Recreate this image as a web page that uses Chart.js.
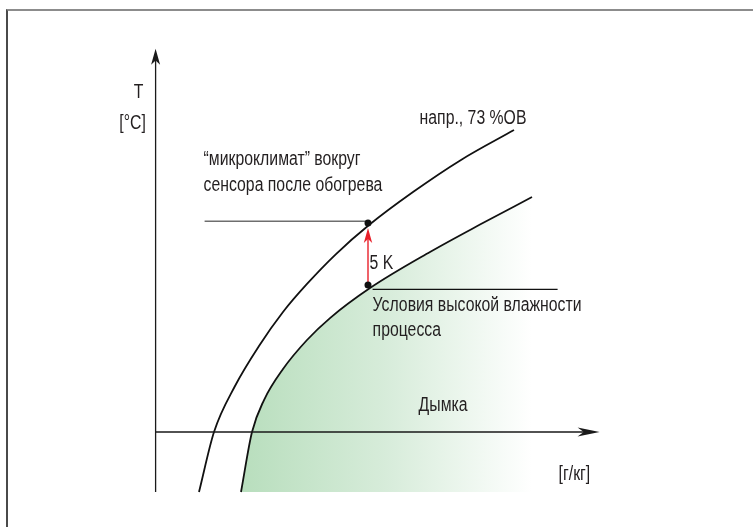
<!DOCTYPE html>
<html>
<head>
<meta charset="utf-8">
<script src="https://cdn.jsdelivr.net/npm/chart.js@4/dist/chart.umd.min.js"></script>
<style>
  html, body { margin: 0; padding: 0; background: #fff; }
  #wrap { position: relative; width: 753px; height: 527px; overflow: hidden; }
  #frame { position: absolute; left: 6px; top: 9px; width: 800px; height: 600px;
           border-top: 2px solid #8c8c8c; border-left: 2px solid #4a4a4a; }
  canvas { position: absolute; left: 0; top: 0; }
</style>
</head>
<body>
<div id="wrap">
  <div id="frame"></div>
  <canvas id="chart" width="753" height="527"></canvas>
</div>
<script>
// curve for ~73 %RH (upper) and saturation / high-humidity curve (lower)
const upperX = [2.17, 2.92, 3.97, 5.17, 6.37, 7.57, 9.02, 10.67, 12.87, 15.27, 17.92]
const upperY = [-4.84, 0, 3.71, 6.94, 9.68, 11.94, 14.35, 16.69, 19.35, 21.94, 24.35]
const lowerX = [4.27, 4.82, 5.42, 6.37, 7.57, 8.72, 10.72, 13.72, 16.22, 18.82]
const lowerY = [-4.84, 0, 2.58, 5.08, 7.42, 9.19, 11.61, 14.52, 16.73, 18.95]

// process point and heated sensor point (+5 K)
const pointX = [10.62, 10.62]
const pointY = [11.85, 16.85]
const deltaK = 5

// reference lines
const heatedLineX = [2.45, 10.62]
const heatedLineY = [17.0, 17.0]
const processLineX = [10.85, 20.1]
const processLineY = [11.5, 11.5]

// axes extents
const axisBottom = -4.84
const axisTop = 30.9
const axisRight = 22.2

const notes = [
  { text: 'T', x: -0.85, y: 27.4, align: 'center' },
  { text: '[°C]', x: -1.15, y: 24.85, align: 'center' },
  { text: 'напр., 73 %ОВ', x: 13.2, y: 25.3, align: 'left' },
  { text: '“микроклимат” вокруг', x: 2.4, y: 21.95, align: 'left' },
  { text: 'сенсора после обогрева', x: 2.4, y: 19.9, align: 'left' },
  { text: deltaK + ' K', x: 10.7, y: 13.6, align: 'left' },
  { text: 'Условия высокой влажности', x: 10.85, y: 10.2, align: 'left' },
  { text: 'процесса', x: 10.85, y: 8.2, align: 'left' },
  { text: 'Дымка', x: 13.15, y: 2.1, align: 'left' },
  { text: '[г/кг]', x: 20.15, y: -3.4, align: 'left' },
]

// condensed look: Liberation Sans squeezed horizontally
const FONT = "19.5px 'Liberation Sans', Arial, sans-serif"
const SQUEEZE = 0.81
const INK = '#231f20'

const toPoints = (xs, ys) => xs.map((x, i) => ({ x, y: ys[i] }))

function arrowHead(ctx, tx, ty, dx, dy, len, half, color) {
  const bx = tx - dx * len, by = ty - dy * len
  const nx = tx - dx * len * 0.72, ny = ty - dy * len * 0.72
  ctx.beginPath()
  ctx.moveTo(tx, ty)
  ctx.lineTo(bx - dy * half, by + dx * half)
  ctx.lineTo(nx, ny)
  ctx.lineTo(bx + dy * half, by - dx * half)
  ctx.closePath()
  ctx.fillStyle = color
  ctx.fill()
}

const decorations = {
  id: 'decorations',
  afterDatasetsDraw(chart) {
    const { ctx, scales: { x, y } } = chart
    ctx.save()
    // axes
    ctx.strokeStyle = '#1a1a1a'
    ctx.lineWidth = 1.3
    ctx.beginPath()
    ctx.moveTo(x.getPixelForValue(0), y.getPixelForValue(axisBottom))
    ctx.lineTo(x.getPixelForValue(0), y.getPixelForValue(axisTop) + 8)
    ctx.moveTo(x.getPixelForValue(0), y.getPixelForValue(0))
    ctx.lineTo(x.getPixelForValue(axisRight) - 8, y.getPixelForValue(0))
    ctx.stroke()
    arrowHead(ctx, x.getPixelForValue(0), y.getPixelForValue(axisTop), 0, -1, 16, 4.5, '#1a1a1a')
    arrowHead(ctx, x.getPixelForValue(axisRight), y.getPixelForValue(0), 1, 0, 22, 4.5, '#1a1a1a')

    // red +5 K arrow
    const ax = x.getPixelForValue(pointX[0])
    const y0 = y.getPixelForValue(pointY[0])
    const y1 = y.getPixelForValue(pointY[1]) + 5
    ctx.strokeStyle = '#e8202a'
    ctx.lineWidth = 1.4
    ctx.beginPath()
    ctx.moveTo(ax, y0)
    ctx.lineTo(ax, y1 + 10)
    ctx.stroke()
    arrowHead(ctx, ax, y1, 0, -1, 15, 4.2, '#e8202a')

    // dots on top
    ctx.fillStyle = '#111'
    pointX.forEach((px, i) => {
      ctx.beginPath()
      ctx.arc(x.getPixelForValue(px), y.getPixelForValue(pointY[i]), 3.5, 0, Math.PI * 2)
      ctx.fill()
    })

    // labels
    ctx.font = FONT
    ctx.fillStyle = INK
    ctx.textBaseline = 'middle'
    notes.forEach(n => {
      ctx.save()
      ctx.translate(x.getPixelForValue(n.x), y.getPixelForValue(n.y))
      ctx.scale(SQUEEZE, 1)
      ctx.textAlign = n.align
      ctx.fillText(n.text, 0, 0)
      ctx.restore()
    })
    ctx.restore()
  },
}

function hazeFill(context) {
  const chart = context.chart
  const { x } = chart.scales
  if (!chart.chartArea || !x) return 'rgba(0,0,0,0)'
  const left = x.getPixelForValue(lowerX[0])
  const right = x.getPixelForValue(lowerX[lowerX.length - 1])
  if (!isFinite(left) || !isFinite(right)) return 'rgba(0,0,0,0)'
  const g = chart.ctx.createLinearGradient(left, 0, right, 0)
  g.addColorStop(0, 'rgb(184,222,189)')
  g.addColorStop(0.5, 'rgb(215,236,218)')
  g.addColorStop(1, 'rgba(255,255,255,1)')
  return g
}

new Chart(document.getElementById('chart'), {
  type: 'line',
  data: {
    datasets: [
      {
        data: toPoints(lowerX, lowerY),
        borderColor: '#111',
        borderWidth: 1.8,
        backgroundColor: hazeFill,
        fill: { value: axisBottom },
        cubicInterpolationMode: 'monotone',
        pointRadius: 0,
        order: 5,
      },
      {
        data: toPoints(upperX, upperY),
        borderColor: '#111',
        borderWidth: 1.8,
        fill: false,
        cubicInterpolationMode: 'monotone',
        pointRadius: 0,
        order: 4,
      },
      {
        data: toPoints(heatedLineX, heatedLineY),
        borderColor: '#6e6e6e',
        borderWidth: 1.6,
        pointRadius: 0,
        order: 1,
      },
      {
        data: toPoints(processLineX, processLineY),
        borderColor: '#111',
        borderWidth: 1.2,
        pointRadius: 0,
        order: 1,
      },
    ],
  },
  options: {
    responsive: false,
    animation: false,
    layout: { padding: 0 },
    plugins: {
      legend: { display: false },
      tooltip: { enabled: false },
    },
    scales: {
      x: { type: 'linear', display: false, min: -7.78, max: 29.87 },
      y: { type: 'linear', display: false, min: -7.66, max: 34.84 },
    },
  },
  plugins: [decorations],
})
</script>
</body>
</html>
